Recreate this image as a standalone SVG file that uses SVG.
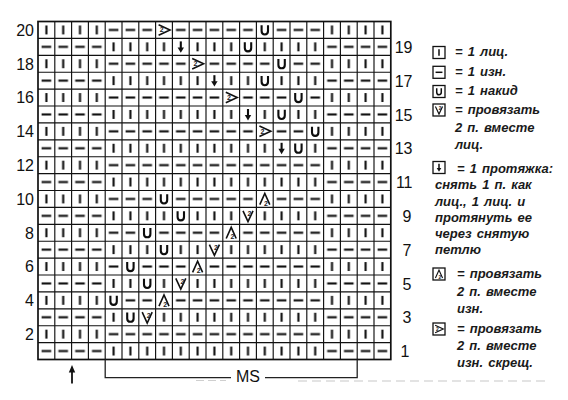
<svg xmlns="http://www.w3.org/2000/svg" width="568" height="400" viewBox="0 0 568 400">
<style>
.s{stroke:#0d0d0d;stroke-width:2.1;fill:none}
.t{stroke:#111;stroke-width:1.6;fill:none;stroke-linejoin:miter}
.two{font-family:"Liberation Sans",Arial,sans-serif;font-size:7px;font-weight:bold;fill:#222}
.grid{stroke:#111;stroke-width:1.15;fill:none}
.num{font-family:"Liberation Sans",Arial,sans-serif;font-size:16px;fill:#111}
.lg{font-family:"Liberation Sans",Arial,sans-serif;font-size:13px;font-style:italic;font-weight:bold;fill:#1a1a1a;word-spacing:1.5px}
.box{stroke:#111;stroke-width:1.3;fill:none}
</style>
<defs>
<g id="sK"><rect width="16.8" height="16.9" fill="#fff"/><path class="s" d="M8.4,4V12.9"/></g>
<g id="sP"><rect width="16.8" height="16.9" fill="#fff"/><path class="s" d="M3.6,8.45H13.2"/></g>
<g id="sO"><rect width="16.8" height="16.9" fill="#fff"/><path class="s" d="M5.2,3.8V9.6Q5.2,13 8.4,13Q11.6,13 11.6,9.6V3.8" stroke-width="1.8"/></g>
<g id="sD"><rect width="16.8" height="16.9" fill="#fff"/><path class="s" d="M8.4,3V10.5" stroke-width="2.2"/><polygon points="5.2,9 11.6,9 8.4,14.4" fill="#111"/></g>
<g id="sR"><rect width="16.8" height="16.9" fill="#fff"/><path class="t" d="M3,3.2L14.4,8.45L3,13.7"/><text class="two" x="4.2" y="10.9">2</text></g>
<g id="sV"><rect width="16.8" height="16.9" fill="#fff"/><path class="t" d="M3.4,3.4L8.4,14.2L13.4,3.4"/><text class="two" x="8" y="8.8">2</text></g>
<g id="sA"><rect width="16.8" height="16.9" fill="#fff"/><path class="t" d="M3.4,14.2L8.4,3L13.4,14.2"/><text class="two" x="7.6" y="15">2</text></g>
<pattern id="pa" patternUnits="userSpaceOnUse" x="38" y="21.5" width="16.8" height="33.8"><use href="#sK"/><use href="#sP" y="16.9"/></pattern>
<pattern id="pb" patternUnits="userSpaceOnUse" x="38" y="21.5" width="16.8" height="33.8"><use href="#sP"/><use href="#sK" y="16.9"/></pattern>
</defs>
<rect width="568" height="400" fill="#fff"/>
<g id="chart">
<rect x="38" y="21.5" width="67.2" height="338" fill="url(#pa)"/>
<rect x="105.2" y="21.5" width="218.4" height="338" fill="url(#pb)"/>
<rect x="323.6" y="21.5" width="67.2" height="338" fill="url(#pa)"/>
<g id="specials">
<use href="#sR" x="155.6" y="21.5"/><use href="#sO" x="256.4" y="21.5"/>
<use href="#sD" x="172.4" y="38.4"/><use href="#sO" x="239.6" y="38.4"/>
<use href="#sR" x="189.2" y="55.3"/><use href="#sO" x="273.2" y="55.3"/>
<use href="#sD" x="206" y="72.2"/><use href="#sO" x="256.4" y="72.2"/>
<use href="#sR" x="222.8" y="89.1"/><use href="#sO" x="290" y="89.1"/>
<use href="#sD" x="239.6" y="106"/><use href="#sO" x="273.2" y="106"/>
<use href="#sR" x="256.4" y="122.9"/><use href="#sO" x="306.8" y="122.9"/>
<use href="#sD" x="273.2" y="139.8"/><use href="#sO" x="290" y="139.8"/>
<use href="#sO" x="155.6" y="190.5"/><use href="#sA" x="256.4" y="190.5"/>
<use href="#sO" x="172.4" y="207.4"/><use href="#sV" x="239.6" y="207.4"/>
<use href="#sO" x="138.8" y="224.3"/><use href="#sA" x="222.8" y="224.3"/>
<use href="#sO" x="155.6" y="241.2"/><use href="#sV" x="206" y="241.2"/>
<use href="#sO" x="122" y="258.1"/><use href="#sA" x="189.2" y="258.1"/>
<use href="#sO" x="138.8" y="275"/><use href="#sV" x="172.4" y="275"/>
<use href="#sO" x="105.2" y="291.9"/><use href="#sA" x="155.6" y="291.9"/>
<use href="#sO" x="122" y="308.8"/><use href="#sV" x="138.8" y="308.8"/>
</g>
<path class="grid" d="M54.8,21.5V359.5M71.6,21.5V359.5M88.4,21.5V359.5M105.2,21.5V359.5M122,21.5V359.5M138.8,21.5V359.5M155.6,21.5V359.5M172.4,21.5V359.5M189.2,21.5V359.5M206,21.5V359.5M222.8,21.5V359.5M239.6,21.5V359.5M256.4,21.5V359.5M273.2,21.5V359.5M290,21.5V359.5M306.8,21.5V359.5M323.6,21.5V359.5M340.4,21.5V359.5M357.2,21.5V359.5M374,21.5V359.5M38,38.4H390.8M38,55.3H390.8M38,72.2H390.8M38,89.1H390.8M38,106H390.8M38,122.9H390.8M38,139.8H390.8M38,156.7H390.8M38,173.6H390.8M38,190.5H390.8M38,207.4H390.8M38,224.3H390.8M38,241.2H390.8M38,258.1H390.8M38,275H390.8M38,291.9H390.8M38,308.8H390.8M38,325.7H390.8M38,342.6H390.8"/>
<rect x="38" y="21.5" width="352.8" height="338" fill="none" stroke="#111" stroke-width="1.7"/>
</g>
<g id="row-numbers">
<text class="num" text-anchor="end" x="34" y="35.7">20</text>
<text class="num" text-anchor="end" x="34" y="69.5">18</text>
<text class="num" text-anchor="end" x="34" y="103.3">16</text>
<text class="num" text-anchor="end" x="34" y="137.1">14</text>
<text class="num" text-anchor="end" x="34" y="170.9">12</text>
<text class="num" text-anchor="end" x="34" y="204.7">10</text>
<text class="num" text-anchor="end" x="34" y="238.5">8</text>
<text class="num" text-anchor="end" x="34" y="272.3">6</text>
<text class="num" text-anchor="end" x="34" y="306.1">4</text>
<text class="num" text-anchor="end" x="34" y="339.9">2</text>
<text class="num" text-anchor="end" x="412.5" y="53">19</text>
<text class="num" text-anchor="end" x="412.5" y="86.8">17</text>
<text class="num" text-anchor="end" x="412.5" y="120.6">15</text>
<text class="num" text-anchor="end" x="412.5" y="154.4">13</text>
<text class="num" text-anchor="end" x="412.5" y="188.2">11</text>
<text class="num" text-anchor="end" x="411.5" y="222">9</text>
<text class="num" text-anchor="end" x="411.5" y="255.8">7</text>
<text class="num" text-anchor="end" x="411.5" y="289.6">5</text>
<text class="num" text-anchor="end" x="411.5" y="323.4">3</text>
<text class="num" text-anchor="end" x="409.5" y="357.2">1</text>
</g>
<g id="ms-bracket">
<path d="M105.2,359.5V377.6H231M265,377.6H357.2V359.5" fill="none" stroke="#222" stroke-width="1.3"/>
<text class="num" x="248" y="381.5" text-anchor="middle">MS</text>
<path d="M298,381H550" stroke="#c8c8c8" stroke-width="1.2" stroke-dasharray="9 5" fill="none"/>
<path d="M196,380.5H226" stroke="#cfcfcf" stroke-width="1.2" stroke-dasharray="8 4" fill="none"/>
</g>
<g id="start-arrow">
<path d="M72,372V383.5" stroke="#111" stroke-width="1.8"/>
<polygon points="68.8,372.6 75.2,372.6 72,365" fill="#111"/>
</g>
<g id="legend">
<g id="lg-k"><use href="#sK" transform="translate(433,46.5) scale(0.714,0.71)"/><rect class="box" x="433" y="46.5" width="12" height="12"/><text class="lg" x="455" y="56">= 1 лиц.</text></g>
<g id="lg-p"><use href="#sP" transform="translate(433,66.3) scale(0.714,0.71)"/><rect class="box" x="433" y="66.3" width="12" height="12"/><text class="lg" x="455" y="75.5">= 1 изн.</text></g>
<g id="lg-o"><use href="#sO" transform="translate(433,85.5) scale(0.714,0.71)"/><rect class="box" x="433" y="85.5" width="12" height="12"/><text class="lg" x="455" y="95">= 1 накид</text></g>
<g id="lg-v"><use href="#sV" transform="translate(433,104) scale(0.714,0.71)"/><rect class="box" x="433" y="104" width="12" height="12"/><text class="lg" x="455" y="113.5">= провязать</text><text class="lg" x="455" y="131.5">2 п. вместе</text><text class="lg" x="455" y="148.5">лиц.</text></g>
<g id="lg-d"><use href="#sD" transform="translate(433,161.5) scale(0.714,0.71)"/><rect class="box" x="433" y="161.5" width="12" height="12"/><text class="lg" x="457" y="173">= 1 протяжка:</text><text class="lg" x="435" y="189">снять 1 п. как</text><text class="lg" x="435" y="205.5">лиц., 1 лиц. и</text><text class="lg" x="435" y="222">протянуть ее</text><text class="lg" x="435" y="238">через снятую</text><text class="lg" x="435" y="254">петлю</text></g>
<g id="lg-a"><use href="#sA" transform="translate(433,268) scale(0.714,0.71)"/><rect class="box" x="433" y="268" width="12" height="12"/><text class="lg" x="457" y="278">= провязать</text><text class="lg" x="457" y="295.5">2 п. вместе</text><text class="lg" x="457" y="312.5">изн.</text></g>
<g id="lg-r"><use href="#sR" transform="translate(433,323) scale(0.714,0.71)"/><rect class="box" x="433" y="323" width="12" height="12"/><text class="lg" x="457" y="333">= провязать</text><text class="lg" x="457" y="350">2 п. вместе</text><text class="lg" x="457" y="367">изн. скрещ.</text></g>
</g>
</svg>
